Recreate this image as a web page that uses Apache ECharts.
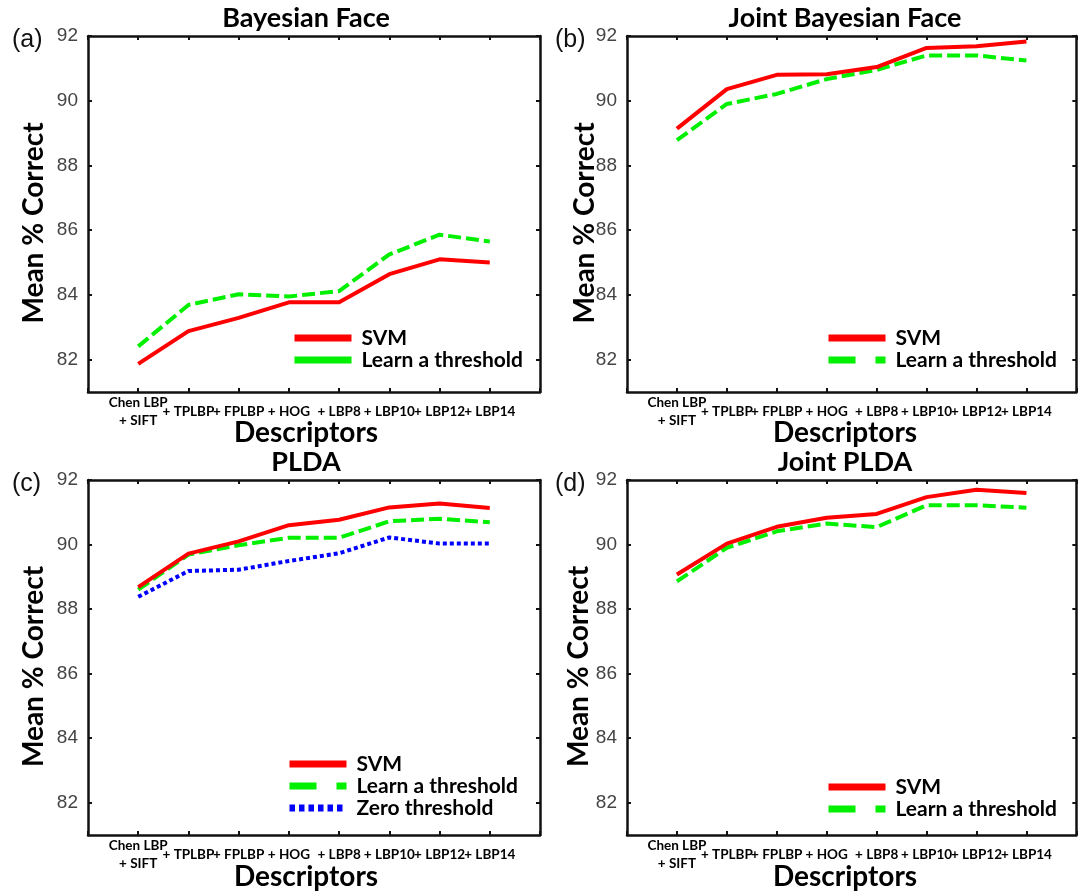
<!DOCTYPE html>
<html>
<head>
    <meta charset="utf-8">
    <title>ECharts</title>
    <script src="https://cdn.jsdelivr.net/npm/echarts@6/dist/echarts.min.js"></script>
    <style>
        html, body { margin: 0; padding: 0; background: #fff; }
    </style>
</head>
<body>
    <div id="main" style="width: 1081px;height:892px;"></div>
    <script type="text/javascript">
    // descriptor names along the x axis; blank slots pad both ends of the box
    var descriptors = ['', 'Chen LBP\n+ SIFT', '+ TPLBP', '+ FPLBP', '+ HOG', '+ LBP8', '+ LBP10', '+ LBP12', '+ LBP14', ' '];
    var yTicks = [82, 84, 86, 88, 90, 92];

    // (a) Bayesian Face
    var bayesSvm = [81.87, 82.88, 83.29, 83.77, 83.77, 84.64, 85.1, 85.0];
    var bayesLearn = [82.41, 83.69, 84.02, 83.95, 84.12, 85.25, 85.86, 85.65];
    // (b) Joint Bayesian Face
    var jointBayesSvm = [89.14, 90.36, 90.8, 90.82, 91.04, 91.63, 91.68, 91.83];
    var jointBayesLearn = [88.78, 89.9, 90.21, 90.67, 90.95, 91.4, 91.4, 91.24];
    // (c) PLDA
    var pldaSvm = [88.68, 89.72, 90.1, 90.6, 90.77, 91.15, 91.27, 91.13];
    var pldaLearn = [88.6, 89.69, 89.98, 90.21, 90.21, 90.72, 90.8, 90.69];
    var pldaZero = [88.38, 89.18, 89.22, 89.49, 89.73, 90.22, 90.03, 90.03];
    // (d) Joint PLDA
    var jointPldaSvm = [89.07, 90.03, 90.55, 90.83, 90.95, 91.47, 91.7, 91.6];
    var jointPldaLearn = [88.86, 89.9, 90.41, 90.65, 90.54, 91.22, 91.22, 91.14];

    var RED = '#ff0000', GREEN = '#00f000', BLUE = '#0000ff';

    var panels = [
        { title: 'Bayesian Face', tag: '(a)', left: 88, top: 36, height: 356, titleX: 306, tagX: 12,
          nameY: 433, yNameX: 34, legendLeft: 291, legendTop: 327, solidLegend: true,
          series: [['SVM', bayesSvm, RED, 'solid'], ['Learn a threshold', bayesLearn, GREEN, [13, 5]]] },
        { title: 'Joint Bayesian Face', tag: '(b)', left: 627, top: 36, height: 356, titleX: 845, tagX: 555,
          nameY: 433, yNameX: 585, legendLeft: 825, legendTop: 327,
          series: [['SVM', jointBayesSvm, RED, 'solid'], ['Learn a threshold', jointBayesLearn, GREEN, [13, 5]]] },
        { title: 'PLDA', tag: '(c)', left: 88, top: 480, height: 355, titleX: 306, tagX: 12,
          nameY: 877, yNameX: 34, legendLeft: 286, legendTop: 753,
          series: [['SVM', pldaSvm, RED, 'solid'], ['Learn a threshold', pldaLearn, GREEN, [13, 5]], ['Zero threshold', pldaZero, BLUE, [4, 3]]] },
        { title: 'Joint PLDA', tag: '(d)', left: 627, top: 480, height: 355, titleX: 845, tagX: 555,
          nameY: 877, yNameX: 579, legendLeft: 825, legendTop: 776,
          series: [['SVM', jointPldaSvm, RED, 'solid'], ['Learn a threshold', jointPldaLearn, GREEN, [13, 5]]] }
    ];

    var grids = [], xAxes = [], yAxes = [], series = [], legends = [], graphics = [];
    var lineAxis = { show: true, lineStyle: { color: '#111', width: 2.5 } };
    var tick = { show: true, inside: true, length: 4, interval: 0, lineStyle: { color: '#111', width: 2 } };
    var noMarker = { color: 'rgba(0,0,0,0)', borderColor: 'rgba(0,0,0,0)', borderWidth: 0, opacity: 0 };

    panels.forEach(function (p, i) {
        grids.push({ left: p.left, top: p.top, width: 452, height: p.height });
        xAxes.push({
            type: 'category', gridIndex: i, position: 'bottom', data: descriptors, boundaryGap: false,
            axisLine: lineAxis, splitLine: { show: false }, axisTick: tick,
            axisLabel: {
                interval: 0, margin: 20, verticalAlign: 'middle', hideOverlap: false,
                fontFamily: 'Lato', fontWeight: 'bold', fontSize: 13.5, color: '#000', lineHeight: 18
            }
        });
        xAxes.push({
            type: 'category', gridIndex: i, position: 'top', data: descriptors, boundaryGap: false,
            axisLine: lineAxis, splitLine: { show: false }, axisLabel: { show: false }, axisTick: tick
        });
        yAxes.push({
            type: 'value', gridIndex: i, position: 'left', min: 81, max: 92,
            axisLine: lineAxis, splitLine: { show: false },
            axisTick: Object.assign({ customValues: yTicks }, tick),
            axisLabel: { customValues: yTicks, margin: 10, fontFamily: 'Liberation Sans', fontSize: 19, color: '#444' }
        });
        yAxes.push({
            type: 'value', gridIndex: i, position: 'right', min: 81, max: 92,
            axisLine: lineAxis, splitLine: { show: false }, axisLabel: { show: false },
            axisTick: Object.assign({ customValues: yTicks }, tick)
        });

        var legendData = [];
        p.series.forEach(function (s, k) {
            series.push({
                type: 'line', name: s[0], xAxisIndex: 2 * i, yAxisIndex: 2 * i,
                data: s[1].map(function (v, j) { return [j + 1, v]; }),
                symbol: 'none', z: 10 - k,
                lineStyle: { color: s[2], width: 4, type: s[3], join: 'round' },
                itemStyle: { color: s[2] }
            });
            var legendType = s[3] === 'solid' || p.solidLegend ? 'solid' : (s[2] === BLUE ? [5.5, 4] : [27, 20]);
            legendData.push({ name: s[0], itemStyle: noMarker, lineStyle: { color: s[2], width: 7, type: legendType } });
        });
        legends.push({
            orient: 'vertical', left: p.legendLeft, top: p.legendTop, padding: 0,
            itemWidth: 57, itemHeight: 14, itemGap: 0, selectedMode: false,
            data: legendData,
            textStyle: { fontFamily: 'Lato', fontWeight: 'bold', fontSize: 21, color: '#000', lineHeight: 22, padding: [0, 0, 0, 5] }
        });

        var yMid = p.top + p.height / 2 + 9;
        graphics.push(
            { type: 'text', x: p.titleX, y: p.top - 18, style: { text: p.title, font: 'bold 27px Lato', fill: '#000', align: 'center', verticalAlign: 'middle' } },
            { type: 'text', x: p.titleX, y: p.nameY, style: { text: 'Descriptors', font: 'bold 28px Lato', fill: '#000', align: 'center', verticalAlign: 'middle' } },
            { type: 'text', x: p.yNameX, y: yMid, rotation: Math.PI / 2, style: { text: 'Mean % Correct', font: 'bold 28px Lato', fill: '#000', align: 'center', verticalAlign: 'middle' } },
            { type: 'text', x: p.tagX, y: p.top + 4, style: { text: p.tag, font: '25px "Liberation Sans"', fill: '#111', align: 'left', verticalAlign: 'middle' } }
        );
    });

    var myChart = echarts.init(document.getElementById('main'));
    var option = {
        animation: false,
        backgroundColor: '#fff',
        grid: grids,
        xAxis: xAxes,
        yAxis: yAxes,
        legend: legends,
        series: series,
        graphic: graphics
    };
    myChart.setOption(option);
    </script>
</body>
</html>
